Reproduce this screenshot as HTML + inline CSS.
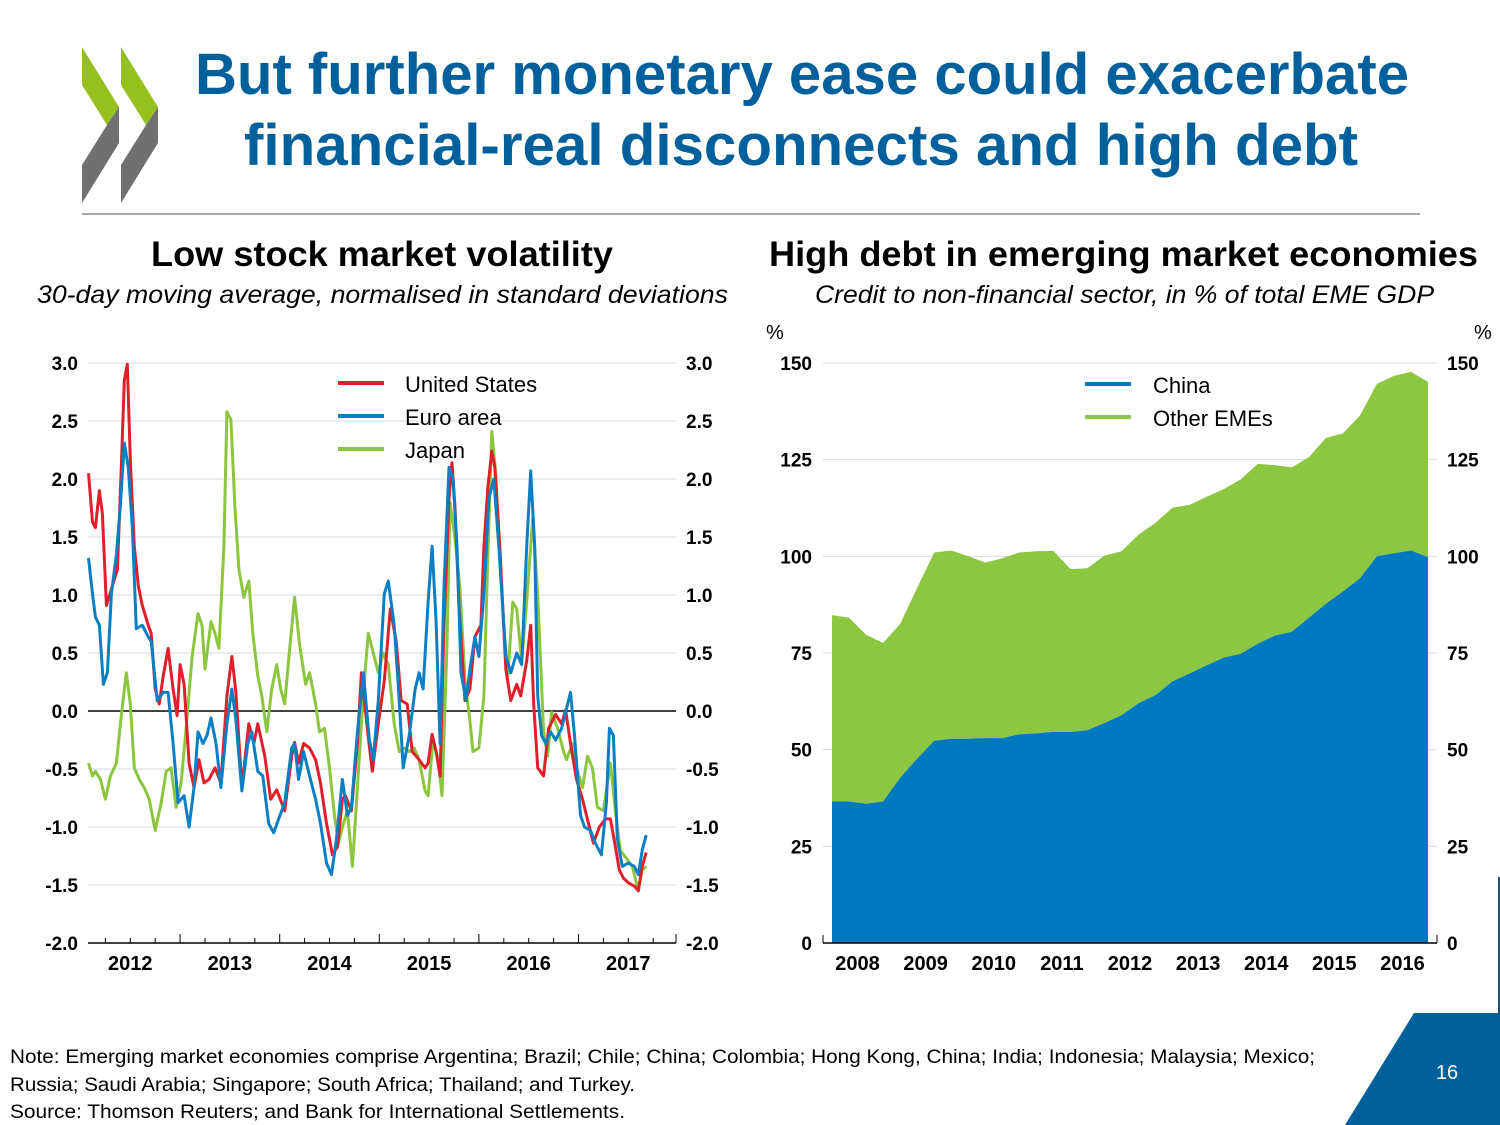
<!DOCTYPE html>
<html><head><meta charset="utf-8"><style>
html,body{margin:0;padding:0;background:#fff;}
svg{display:block;font-family:"Liberation Sans",sans-serif;}
</style></head><body>
<svg id="page" width="1500" height="1125" viewBox="0 0 1500 1125" xmlns="http://www.w3.org/2000/svg">
<g>
  <polygon points="82,47 119,107 107,125 82,85" fill="#95c11f"/>
  <polygon points="119,107 119,143 82,203 82,165 107,125" fill="#707070"/>
  <polygon points="121,47 158,107 146,125 121,85" fill="#95c11f"/>
  <polygon points="158,107 158,143 121,203 121,165 146,125" fill="#707070"/>
</g>
<g fill="#00609c" font-weight="bold" font-size="58">
  <text x="195" y="94" textLength="1214" lengthAdjust="spacingAndGlyphs">But further monetary ease could exacerbate</text>
  <text x="244" y="165" textLength="1114" lengthAdjust="spacingAndGlyphs">financial-real disconnects and high debt</text>
</g>
<line x1="82" y1="214" x2="1420" y2="214" stroke="#8a8a8a" stroke-width="1.5"/>

<text x="151" y="266" font-size="35" font-weight="bold" textLength="462" lengthAdjust="spacingAndGlyphs">Low stock market volatility</text>
<text x="37" y="303" font-size="25" font-style="italic" textLength="691" lengthAdjust="spacingAndGlyphs">30-day moving average, normalised in standard deviations</text>
<text x="769" y="266" font-size="35" font-weight="bold" textLength="709" lengthAdjust="spacingAndGlyphs">High debt in emerging market economies</text>
<text x="815" y="303" font-size="25" font-style="italic" textLength="619" lengthAdjust="spacingAndGlyphs">Credit to non-financial sector, in % of  total EME GDP</text>

<g id="left-chart"></g>
<g id="right-chart"></g>

<g font-size="19.5" fill="#000">
  <text x="10" y="1063" textLength="1305" lengthAdjust="spacingAndGlyphs">Note: Emerging market economies comprise Argentina; Brazil; Chile; China; Colombia; Hong Kong, China; India; Indonesia; Malaysia; Mexico;</text>
  <text x="10" y="1091" textLength="625" lengthAdjust="spacingAndGlyphs">Russia; Saudi Arabia; Singapore; South Africa; Thailand; and Turkey.</text>
  <text x="10" y="1118" textLength="615" lengthAdjust="spacingAndGlyphs">Source: Thomson Reuters; and Bank for International Settlements.</text>
</g>
<line x1="1499" y1="877" x2="1499" y2="1013" stroke="#1a4f7a" stroke-width="2"/>
<polygon points="1414,1013 1500,1013 1500,1125 1345,1125" fill="#00609c"/>
<text x="1447" y="1079" font-size="20" fill="#fff" text-anchor="middle">16</text>
</svg>
<script>
// ---------- Left chart data ----------
const usDates=[2012.08,2012.12,2012.15,2012.19,2012.22,2012.26,2012.31,2012.37,2012.41,2012.44,2012.47,2012.50,2012.54,2012.58,2012.62,2012.68,2012.71,2012.75,2012.79,2012.83,2012.88,2012.93,2012.97,2013.00,2013.04,2013.09,2013.14,2013.19,2013.24,2013.29,2013.35,2013.41,2013.47,2013.52,2013.56,2013.62,2013.69,2013.74,2013.78,2013.85,2013.91,2013.97,2014.05,2014.12,2014.15,2014.19,2014.24,2014.30,2014.36,2014.41,2014.47,2014.53,2014.58,2014.63,2014.66,2014.72,2014.78,2014.82,2014.88,2014.93,2014.99,2015.05,2015.11,2015.17,2015.22,2015.28,2015.33,2015.40,2015.46,2015.49,2015.53,2015.57,2015.61,2015.65,2015.70,2015.73,2015.76,2015.80,2015.86,2015.91,2015.96,2016.02,2016.05,2016.09,2016.13,2016.16,2016.21,2016.27,2016.32,2016.38,2016.42,2016.48,2016.52,2016.55,2016.59,2016.65,2016.70,2016.77,2016.83,2016.87,2016.92,2016.98,2017.04,2017.10,2017.15,2017.21,2017.27,2017.32,2017.37,2017.41,2017.45,2017.50,2017.56,2017.60,2017.64,2017.68];
const usValues=[2.05,1.63,1.58,1.90,1.70,0.91,1.05,1.22,2.10,2.85,2.99,2.17,1.42,1.08,0.91,0.74,0.67,0.19,0.06,0.30,0.54,0.19,-0.04,0.40,0.23,-0.45,-0.66,-0.42,-0.62,-0.59,-0.49,-0.62,0.13,0.47,0.16,-0.66,-0.11,-0.28,-0.11,-0.39,-0.76,-0.68,-0.86,-0.39,-0.27,-0.45,-0.28,-0.32,-0.42,-0.62,-0.97,-1.24,-1.17,-0.76,-0.73,-0.86,-0.28,0.33,-0.15,-0.52,-0.11,0.26,0.88,0.60,0.09,0.06,-0.35,-0.42,-0.49,-0.45,-0.20,-0.35,-0.56,0.74,1.83,2.14,1.76,0.91,0.09,0.19,0.64,0.74,1.42,1.93,2.24,2.10,1.42,0.36,0.09,0.23,0.13,0.43,0.74,0.06,-0.49,-0.56,-0.15,-0.03,-0.11,0.01,-0.28,-0.59,-0.76,-0.97,-1.14,-1.00,-0.93,-0.93,-1.17,-1.37,-1.44,-1.48,-1.51,-1.55,-1.34,-1.22];
const euDates=[2012.08,2012.12,2012.15,2012.19,2012.23,2012.27,2012.31,2012.36,2012.40,2012.44,2012.48,2012.52,2012.56,2012.62,2012.68,2012.71,2012.77,2012.83,2012.88,2012.93,2012.98,2013.04,2013.09,2013.14,2013.18,2013.23,2013.27,2013.31,2013.36,2013.41,2013.47,2013.52,2013.56,2013.62,2013.68,2013.72,2013.78,2013.83,2013.89,2013.94,2013.99,2014.05,2014.12,2014.15,2014.19,2014.24,2014.30,2014.36,2014.41,2014.47,2014.52,2014.57,2014.63,2014.68,2014.72,2014.78,2014.84,2014.90,2014.94,2014.99,2015.05,2015.09,2015.15,2015.19,2015.24,2015.30,2015.36,2015.40,2015.44,2015.49,2015.53,2015.57,2015.61,2015.65,2015.70,2015.74,2015.78,2015.82,2015.87,2015.91,2015.96,2016.00,2016.05,2016.10,2016.15,2016.20,2016.27,2016.32,2016.38,2016.43,2016.48,2016.52,2016.56,2016.59,2016.63,2016.67,2016.72,2016.77,2016.83,2016.88,2016.92,2016.96,2017.02,2017.06,2017.12,2017.17,2017.23,2017.28,2017.31,2017.35,2017.39,2017.44,2017.50,2017.56,2017.60,2017.64,2017.68];
const euValues=[1.32,1.01,0.81,0.74,0.23,0.33,1.01,1.35,1.76,2.31,2.10,1.59,0.71,0.74,0.64,0.60,0.09,0.16,0.16,-0.28,-0.79,-0.73,-1.00,-0.66,-0.18,-0.28,-0.21,-0.06,-0.28,-0.66,-0.11,0.19,-0.08,-0.69,-0.28,-0.18,-0.52,-0.56,-0.97,-1.05,-0.93,-0.79,-0.32,-0.28,-0.59,-0.35,-0.56,-0.76,-0.97,-1.31,-1.41,-1.10,-0.59,-0.90,-0.83,-0.18,0.33,-0.25,-0.42,0.09,1.01,1.12,0.74,0.23,-0.49,-0.21,0.19,0.33,0.19,0.94,1.42,0.77,-0.28,1.08,2.10,2.00,1.42,0.33,0.09,0.36,0.64,0.47,1.01,1.83,2.00,1.42,0.47,0.33,0.50,0.40,1.42,2.07,1.42,0.13,-0.21,-0.28,-0.18,-0.25,-0.15,0.02,0.16,-0.21,-0.90,-1.00,-1.03,-1.14,-1.24,-0.79,-0.15,-0.21,-1.10,-1.34,-1.31,-1.34,-1.41,-1.20,-1.07];
const jpDates=[2012.08,2012.12,2012.15,2012.20,2012.25,2012.30,2012.36,2012.41,2012.46,2012.50,2012.54,2012.59,2012.64,2012.69,2012.75,2012.81,2012.86,2012.91,2012.96,2013.01,2013.06,2013.12,2013.18,2013.22,2013.25,2013.31,2013.35,2013.39,2013.44,2013.47,2013.51,2013.55,2013.59,2013.64,2013.69,2013.73,2013.78,2013.82,2013.87,2013.92,2013.97,2014.01,2014.05,2014.10,2014.15,2014.20,2014.26,2014.30,2014.36,2014.40,2014.45,2014.50,2014.55,2014.59,2014.63,2014.68,2014.73,2014.78,2014.84,2014.89,2014.94,2014.99,2015.04,2015.09,2015.15,2015.20,2015.25,2015.30,2015.35,2015.40,2015.46,2015.49,2015.54,2015.59,2015.63,2015.68,2015.71,2015.76,2015.81,2015.86,2015.91,2015.94,2016.00,2016.05,2016.09,2016.13,2016.17,2016.21,2016.25,2016.29,2016.34,2016.38,2016.43,2016.48,2016.54,2016.59,2016.65,2016.69,2016.73,2016.79,2016.85,2016.88,2016.94,2016.98,2017.04,2017.09,2017.14,2017.19,2017.25,2017.32,2017.37,2017.42,2017.48,2017.54,2017.60,2017.64,2017.68];
const jpValues=[-0.45,-0.56,-0.52,-0.59,-0.76,-0.56,-0.45,-0.04,0.33,0.06,-0.49,-0.59,-0.66,-0.76,-1.03,-0.79,-0.52,-0.49,-0.83,-0.62,-0.15,0.47,0.84,0.74,0.36,0.77,0.67,0.54,1.42,2.58,2.51,1.76,1.22,0.98,1.12,0.67,0.30,0.13,-0.18,0.19,0.40,0.19,0.06,0.54,0.98,0.57,0.23,0.33,0.06,-0.18,-0.15,-0.49,-0.90,-1.14,-1.00,-0.86,-1.34,-0.66,0.16,0.67,0.50,0.33,0.50,0.40,-0.11,-0.35,-0.32,-0.35,-0.32,-0.42,-0.69,-0.73,-0.25,-0.42,-0.73,0.57,1.80,1.49,1.05,0.26,-0.08,-0.35,-0.32,0.13,1.35,2.41,2.04,1.35,0.74,0.30,0.94,0.88,0.43,0.94,1.66,1.01,-0.18,-0.39,-0.01,-0.15,-0.35,-0.42,-0.28,-0.49,-0.66,-0.39,-0.49,-0.83,-0.86,-0.45,-0.86,-1.20,-1.27,-1.34,-1.55,-1.37,-1.34];
const leftTicks=[3.0,2.5,2.0,1.5,1.0,0.5,0.0,-0.5,-1.0,-1.5,-2.0];
const leftTickLabels=["3.0","2.5","2.0","1.5","1.0","0.5","0.0","-0.5","-1.0","-1.5","-2.0"];
const leftYears=[2012,2013,2014,2015,2016,2017];
// ---------- Right chart data ----------
const rightQuarters=36; // 2008Q1..2016Q4
const chinaValues=[36.6,36.6,36.0,36.6,42.7,47.7,52.3,52.8,52.8,53.0,53.0,54.0,54.2,54.6,54.6,55.0,56.9,58.9,62.0,64.1,67.7,69.7,71.8,73.8,74.8,77.4,79.5,80.5,84.1,87.7,90.9,94.3,100.0,100.8,101.5,99.8];
const totalValues=[84.8,84.1,79.7,77.6,82.5,91.8,101.0,101.5,100.0,98.4,99.5,101.0,101.3,101.4,96.7,96.9,100.2,101.3,105.6,108.7,112.6,113.3,115.4,117.4,119.9,123.9,123.6,123.0,125.6,130.6,131.8,136.4,144.6,146.7,147.7,145.1];
const otherValues=[48.2,47.5,43.7,41.0,39.8,44.1,48.7,48.7,47.2,45.4,46.5,47.0,47.1,46.8,42.1,41.9,43.3,42.4,43.6,44.6,44.9,43.6,43.6,43.6,45.1,46.5,44.1,42.5,41.5,42.9,40.9,42.1,44.6,45.9,46.2,45.3];
const rightTicks=[150,125,100,75,50,25,0];
const rightTickLabels=["150","125","100","75","50","25","0"];
const rightYears=[2008,2009,2010,2011,2012,2013,2014,2015,2016];

const NS="http://www.w3.org/2000/svg";
function mk(parent,tag,attrs){const e=document.createElementNS(NS,tag);for(const k in attrs)e.setAttribute(k,attrs[k]);parent.appendChild(e);return e;}

// Left axes
const L={x0:88,x1:676,yTop:363,yBot:943,vTop:3,vBot:-2,t0:2011.93,t1:2017.85};
function lx(t){return 80.5+(t-2012)*99.6;}
function ly(v){return L.yTop+(L.vTop-v)/(L.vTop-L.vBot)*(L.yBot-L.yTop);}
const lg=document.getElementById('left-chart');
leftTicks.forEach((v,i)=>{
  const y=ly(v);
  const g=mk(lg,'line',{x1:L.x0,x2:L.x1,y1:y,y2:y,stroke:v===0?'#000':'#d9d9d9','stroke-width':v===0?1.5:1});
  
  
  const a=mk(lg,'text',{x:78,y:y+7,'text-anchor':'end','font-size':19,'font-weight':'bold'});
  a.textContent=leftTickLabels[i];
  
  
  const b=mk(lg,'text',{x:686,y:y+7,'text-anchor':'start','font-size':19,'font-weight':'bold'});
  b.textContent=leftTickLabels[i];
  
  
});
const lax=mk(lg,'line',{x1:L.x0,x2:L.x1,y1:L.yBot,y2:L.yBot,stroke:'#000','stroke-width':1.5});


leftYears.forEach(yr=>{
  for(let q=0;q<4;q++){
    const x=lx(yr+q/4);
    if(x<L.x0||x>L.x1)continue;
    const tk=mk(lg,'line',{x1:x,x2:x,y1:L.yBot,y2:L.yBot-(q===0?9:5),stroke:'#000','stroke-width':1});
    
    
  }
  const t=mk(lg,'text',{x:lx(yr+0.5),y:970,'text-anchor':'middle','font-size':20,'font-weight':'bold'});
  t.textContent=String(yr);
  
  
});
const endTick=mk(lg,'line',{x1:L.x1,x2:L.x1,y1:L.yBot,y2:L.yBot-9,stroke:'#000','stroke-width':1});


function drawLine(dates,vals,color,name){
  const d=dates.map((t,i)=>(i?'L':'M')+lx(t).toFixed(1)+','+ly(vals[i]).toFixed(1)).join(' ');
  const p=mk(lg,'path',{d:d,fill:'none',stroke:color,'stroke-width':3,'stroke-linejoin':'round'});
  
  
}
drawLine(jpDates,jpValues,'#8cc63f','japan-line');
drawLine(usDates,usValues,'#e01f2c','united-states-line');
drawLine(euDates,euValues,'#0a7fc4','euro-area-line');
[['United States','#e01f2c',383],['Euro area','#0a7fc4',416],['Japan','#8cc63f',449]].forEach(e=>{
  const l=mk(lg,'line',{x1:338,x2:384,y1:e[2],y2:e[2],stroke:e[1],'stroke-width':4});
  
  
  const t=mk(lg,'text',{x:405,y:e[2]+9,'font-size':22});
  t.textContent=e[0];
  
  
});

// Right axes
const R={x0:823,x1:1437,yTop:363,yBot:943,vMax:150};
function rx(i){return 832+i*(1428-832)/(rightQuarters-1);}
function ry(v){return R.yBot-v/R.vMax*(R.yBot-R.yTop);}
const rg=document.getElementById('right-chart');
rightTicks.forEach((v,i)=>{
  const y=ry(v);
  const g=mk(rg,'line',{x1:R.x0,x2:R.x1,y1:y,y2:y,stroke:'#d9d9d9','stroke-width':1});
  
  
  const a=mk(rg,'text',{x:812,y:y+7,'text-anchor':'end','font-size':19,'font-weight':'bold'});
  a.textContent=rightTickLabels[i];
  
  
  const b=mk(rg,'text',{x:1447,y:y+7,'text-anchor':'start','font-size':19,'font-weight':'bold'});
  b.textContent=rightTickLabels[i];
  
  
});
const p1=mk(rg,'text',{x:766,y:339,'font-size':20});p1.textContent='%';


const p2=mk(rg,'text',{x:1474,y:339,'font-size':20});p2.textContent='%';


function areaPath(lower,upper){
  let d='';
  upper.forEach((v,i)=>{d+=(i?'L':'M')+rx(i).toFixed(1)+','+ry(v).toFixed(1)+' ';});
  for(let i=lower.length-1;i>=0;i--){d+='L'+rx(i).toFixed(1)+','+ry(lower[i]).toFixed(1)+' ';}
  return d+'Z';
}
const zeros=chinaValues.map(()=>0);
const stackTop=chinaValues.map((c,i)=>c+otherValues[i]);
const oa=mk(rg,'path',{d:areaPath(chinaValues,stackTop),fill:'#8dc641'});


const ca=mk(rg,'path',{d:areaPath(zeros,chinaValues),fill:'#0279bf'});


const rax=mk(rg,'line',{x1:R.x0,x2:R.x1,y1:R.yBot,y2:R.yBot,stroke:'#000','stroke-width':1.5});


[R.x0,R.x1].forEach(x=>{
  const t=mk(rg,'line',{x1:x,x2:x,y1:R.yBot,y2:R.yBot-8,stroke:'#000','stroke-width':1});
  
  
});
rightYears.forEach((yr,i)=>{
  const t=mk(rg,'text',{x:(rx(i*4)+rx(i*4+3))/2,y:970,'text-anchor':'middle','font-size':20,'font-weight':'bold'});
  t.textContent=String(yr);
  
  
});
[['China','#0279bf',384],['Other EMEs','#8dc641',417]].forEach(e=>{
  const l=mk(rg,'line',{x1:1085,x2:1131,y1:e[2],y2:e[2],stroke:e[1],'stroke-width':4});
  
  
  const t=mk(rg,'text',{x:1153,y:e[2]+9,'font-size':22});
  t.textContent=e[0];
  
  
});
</script>
</body></html>
